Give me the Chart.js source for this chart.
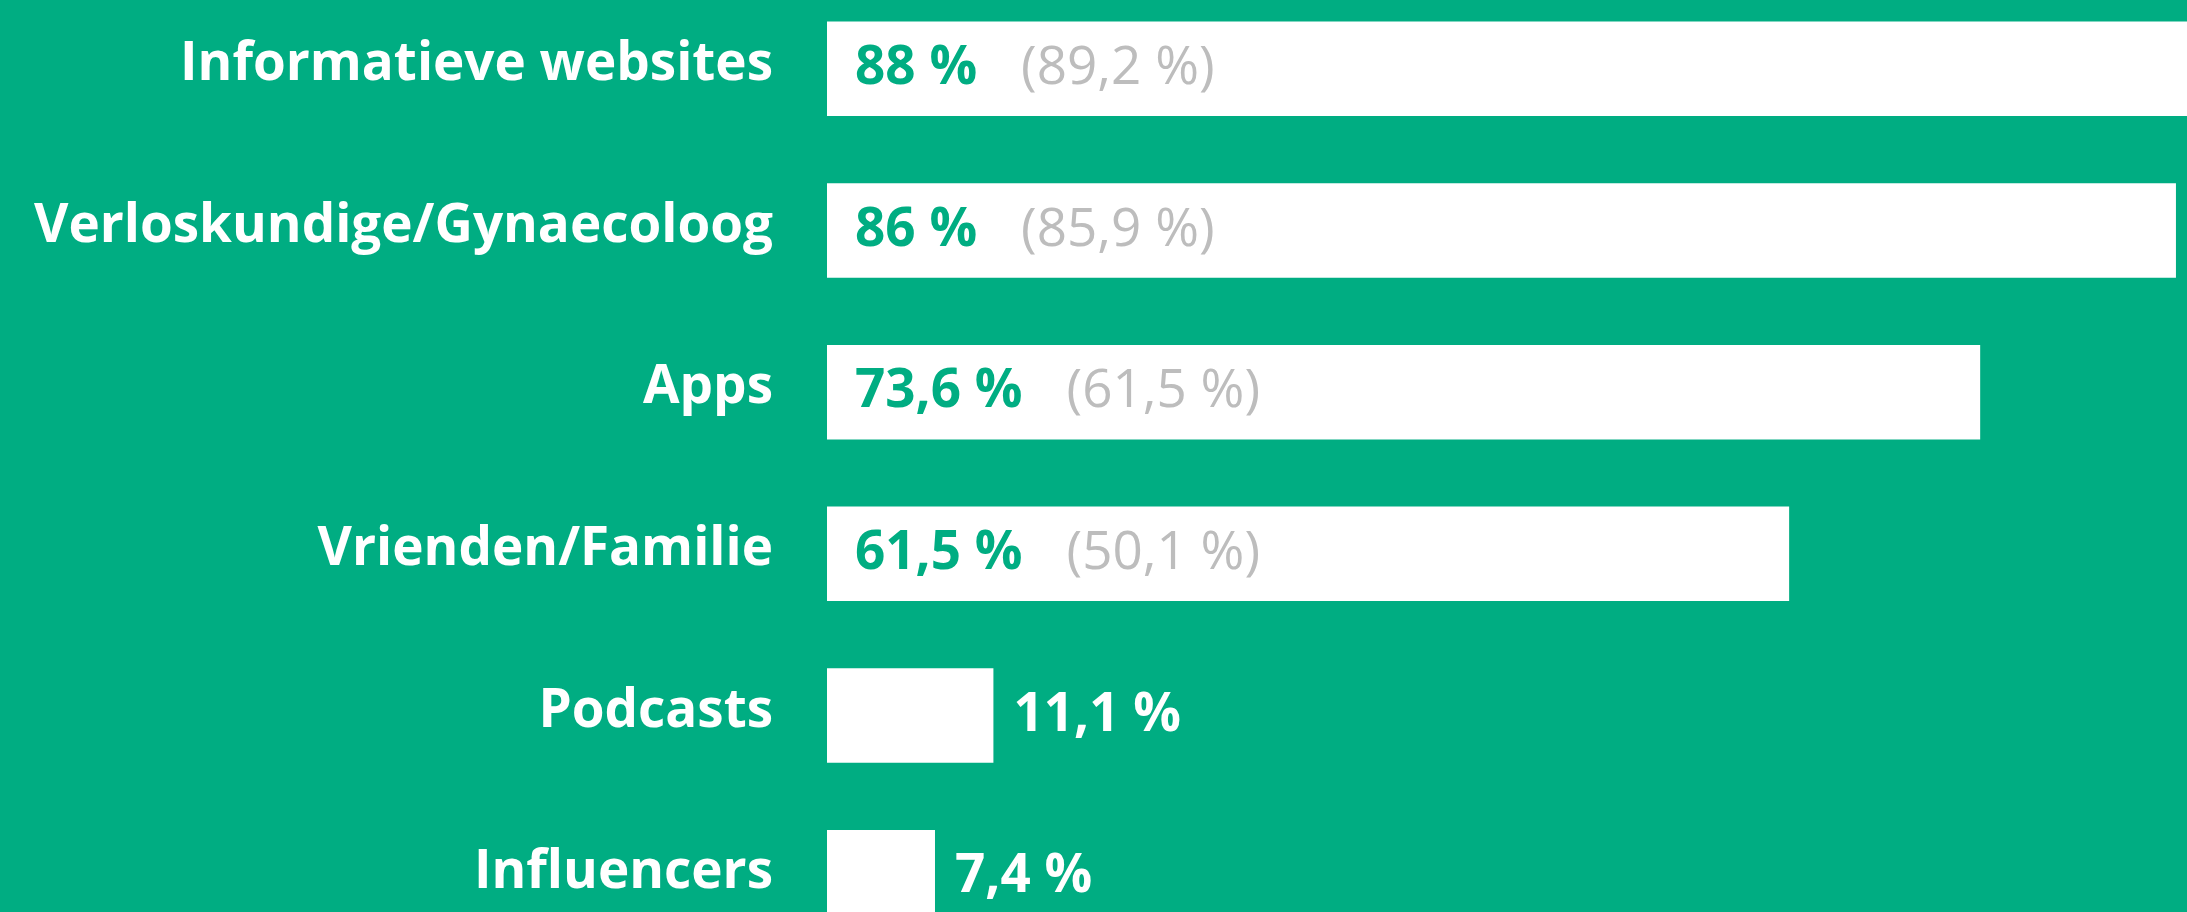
<!DOCTYPE html>
<html>
<head>
<meta charset="utf-8">
<script src="https://cdn.jsdelivr.net/npm/chart.js@4"></script>
<style>
    html, body {
        margin: 0;
        padding: 0;
        width: 2187px;
        height: 912px;
        overflow: hidden;
        background: #00ad82;
    }
    #wrap {
        position: absolute;
        left: 0;
        top: -12px;
        width: 2187px;
        height: 970px;
    }
</style>
</head>
<body>
<div id="wrap"><canvas id="sourceGraph"></canvas></div>
<script>
const categories = ['Informatieve websites', 'Verloskundige/Gynaecoloog', 'Apps', 'Vrienden/Familie', 'Podcasts', 'Influencers'];
const currentValues = [88, 86, 73.6, 61.5, 11.1, 7.4];
const previousValues = [89.2, 85.9, 61.5, 50.1, null, null];

const bgGreen = '#00ad82';
const fontName = "'Open Sans', 'Noto Sans', sans-serif";

function formatPct(v) {
    return String(v).replace('.', ',') + ' %';
}

// draws the percentages inside (big bars) or next to (small bars) each bar
const valueLabels = {
    id: 'valueLabels',
    afterDatasetsDraw(chart) {
        const ctx = chart.ctx;
        const meta = chart.getDatasetMeta(0);
        const left = chart.chartArea.left;
        ctx.save();
        ctx.textBaseline = 'middle';
        ctx.textAlign = 'left';
        meta.data.forEach((bar, i) => {
            const txt = formatPct(currentValues[i]);
            const y = bar.y;
            ctx.font = 'bold 53px ' + fontName;
            if (previousValues[i] != null) {
                ctx.fillStyle = bgGreen;
                ctx.fillText(txt, left + 28, y);
                const w = ctx.measureText(txt).width;
                ctx.font = '53px ' + fontName;
                ctx.fillStyle = '#bdbdbd';
                ctx.fillText('(' + formatPct(previousValues[i]) + ')', left + 28 + w + 44, y);
            } else {
                ctx.fillStyle = '#ffffff';
                ctx.fillText(txt, bar.x + 20, y);
            }
        });
        ctx.restore();
    }
};

new Chart(sourceGraph, {
    type: 'bar',
    data: {
        labels: categories,
        datasets: [{
            data: currentValues,
            backgroundColor: '#ffffff',
            borderWidth: 0,
            categoryPercentage: 1,
            barPercentage: 0.585
        }]
    },
    options: {
        indexAxis: 'y',
        responsive: true,
        maintainAspectRatio: false,
        layout: {
            padding: 0
        },
        scales: {
            x: {
                display: false,
                min: 0.56,
                max: 86.7
            },
            y: {
                afterFit: function(scale) {
                    scale.width = 827;
                    scale.paddingTop = 0;
                    scale.paddingBottom = 0;
                },
                grid: {
                    display: false,
                    drawTicks: true,
                    tickLength: 54
                },
                border: {
                    display: false
                },
                ticks: {
                    color: '#ffffff',
                    padding: 0,
                    labelOffset: -4,
                    autoSkip: false,
                    font: {
                        family: fontName,
                        size: 53,
                        weight: 'bold'
                    }
                }
            }
        },
        plugins: {
            legend: {
                display: false
            },
            tooltip: {
                enabled: false
            }
        },
        animation: {
            duration: 0
        }
    },
    plugins: [valueLabels]
});
</script>
</body>
</html>
